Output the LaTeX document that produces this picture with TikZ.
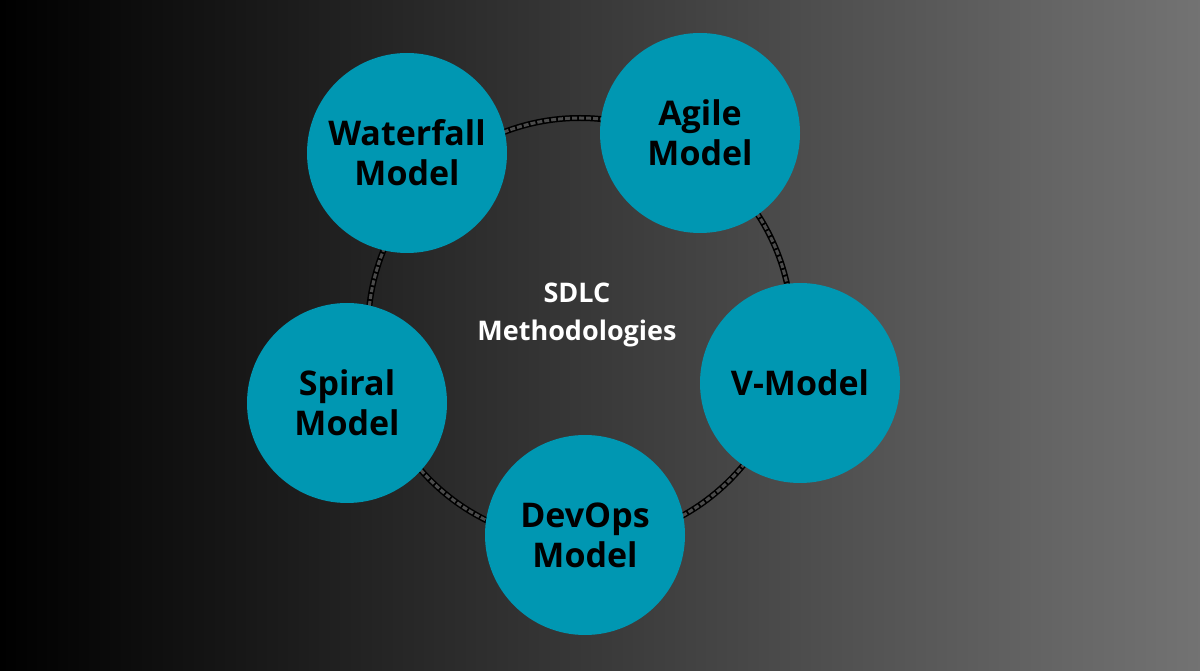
\documentclass[tikz,border=0pt]{standalone}
\usepackage{fontspec}
\setmainfont{Open Sans}
\begin{document}
\begin{tikzpicture}[x=1pt,y=1pt,
  method/.style={circle,fill=teal0,minimum size=200pt,inner sep=0pt,align=center,font=\bfseries\fontsize{34}{40}\selectfont,text=black}]
\definecolor{teal0}{HTML}{0097B2}
\shade[left color=black,right color=black!55] (0,0) rectangle (1200,670);
\useasboundingbox (0,0) rectangle (1200,670);
\coordinate (c) at (580,340);
\draw[black,line width=6pt] (c) circle (212);
\draw[black!70,line width=3pt,dash pattern=on 5pt off 2pt] (c) circle (212);
\node[method] (wf) at (407,517) {Waterfall\\Model};
\node[method] (ag) at (700,537) {Agile\\Model};
\node[method] (vm) at (800,287) {V-Model};
\node[method] (do) at (585,135) {DevOps\\Model};
\node[method] (sp) at (347,267) {Spiral\\Model};
\node[align=center,text=white,font=\bfseries\fontsize{27}{38}\selectfont] (t) at (577,355) {SDLC\\Methodologies};
\end{tikzpicture}
\end{document}
